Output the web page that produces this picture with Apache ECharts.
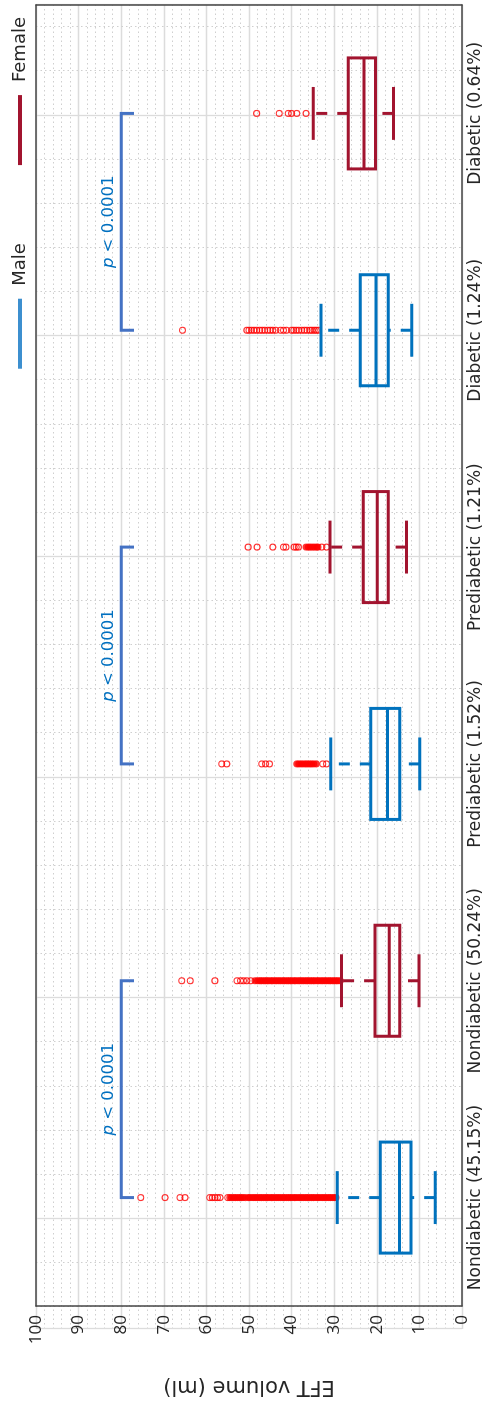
<!DOCTYPE html>
<html>
<head>
<meta charset="utf-8">
<script src="https://cdn.jsdelivr.net/npm/echarts@6/dist/echarts.min.js"></script>
<style>
  html, body { margin: 0; padding: 0; background: #fff; overflow: hidden; width: 487px; height: 1405px; }
  /* chart is laid out landscape, then turned a quarter turn counter-clockwise */
  #chart { position: absolute; left: 0; top: 0; width: 1405px; height: 487px;
           transform-origin: 0 0; transform: translate(0, 1405px) rotate(-90deg); }
</style>
</head>
<body>
<div id="chart"></div>
<script>
// ---- data ----
const categories = ['Nondiabetic (45.15%)', 'Nondiabetic (50.24%)', 'Prediabetic (1.52%)',
                    'Prediabetic (1.21%)', 'Diabetic (1.24%)', 'Diabetic (0.64%)'];
const groups = ['Male', 'Female', 'Male', 'Female', 'Male', 'Female'];

const whiskerLow  = [6.3, 10.1, 9.9, 13.0, 11.8, 16.1];
const quartile1   = [12.0, 14.6, 14.6, 17.3, 17.3, 20.3];
const medians     = [14.7, 17.1, 17.5, 19.9, 20.2, 23.0];
const quartile3   = [19.2, 20.4, 21.4, 23.2, 23.9, 26.7];
const whiskerHigh = [29.3, 28.3, 30.8, 31.0, 33.1, 34.9];

// outliers that stand apart, per category
const isolatedOutliers = [
  [75.4, 69.7, 66.2, 65.0, 59.2, 58.6, 58.0, 57.4, 56.8, 55.0],
  [65.8, 63.8, 58.0, 52.8, 52.0, 51.3, 50.5, 49.6],
  [56.4, 55.2, 47.0, 46.1, 45.2, 32.7, 31.8],
  [50.2, 48.1, 44.4, 41.9, 41.3, 39.4, 38.9, 38.4, 32.9, 31.8],
  [65.6, 50.5, 50.0, 49.4, 48.8, 48.2, 47.5, 46.9, 46.3, 45.6, 45.0, 44.4, 43.7, 42.6, 41.9,
   41.2, 40.0, 39.5, 38.9, 38.3, 37.6, 37.0, 36.4, 35.7, 35.2, 34.7, 34.2, 33.7],
  [48.2, 42.9, 40.8, 40.0, 38.8, 36.6]
];
// outliers packed so tightly that their markers merge into a solid run
const crowdedOutliers = [
  [54.5, 54.1, 53.6, 53.2, 52.7, 52.3, 51.8, 51.4, 50.9, 50.2, 49.8, 49.3, 48.9, 48.4, 48.0,
   47.5, 47.1, 46.6, 46.2, 45.7, 45.3, 44.8, 44.4, 43.9, 43.5, 43.0, 42.6, 42.1, 41.7, 41.2,
   40.8, 40.3, 39.9, 39.4, 39.0, 38.5, 38.1, 37.6, 37.2, 36.7, 36.3, 35.8, 35.4, 34.9, 34.5,
   34.0, 33.6, 33.1, 32.7, 32.2, 31.8, 31.3, 30.9, 30.4, 30.0, 29.6],
  [48.6, 48.0, 47.5, 47.1, 46.6, 46.2, 45.7, 45.3, 44.8, 44.4, 43.9, 43.5, 43.0, 42.6, 42.1,
   41.7, 41.2, 40.8, 40.3, 39.9, 39.4, 39.0, 38.5, 38.1, 37.6, 37.2, 36.7, 36.3, 35.8, 35.4,
   34.9, 34.5, 34.0, 33.6, 33.1, 32.7, 32.2, 31.8, 31.3, 30.9, 30.4, 30.0, 29.5, 29.1, 28.6],
  [38.8, 38.3, 37.8, 37.3, 36.8, 36.3, 35.8, 35.3, 34.8, 34.2],
  [36.6, 36.1, 35.6, 35.1, 34.6, 34.1, 33.8],
  [],
  []
];

// pairwise comparisons: [first category, second category]
const comparisons = [[0, 1], [2, 3], [4, 5]];
const bracketLevel = 80;
const bracketTip = 77;
const pValueText = 'p < 0.0001';

// ---- styling ----
const FONT = 'DejaVu Sans';
const NUM_FONT = 'Open Sans';
const TEXT = '#262626';
const FRAME = '#454545';
const colors = { Male: '#0072BD', Female: '#A2142F' };
const legendColors = { Male: '#3C8FCF', Female: '#A2142F' };

function boxRows(group) {
  const rows = [];
  categories.forEach((c, i) => {
    if (groups[i] === group) {
      rows.push([i, whiskerLow[i], quartile1[i], medians[i], quartile3[i], whiskerHigh[i]]);
    }
  });
  return rows;
}

function pointRows(lists) {
  const rows = [];
  lists.forEach((list, i) => list.forEach(v => rows.push([i, v])));
  return rows;
}

const bracketRows = comparisons.map(([a, b]) => [a, b, bracketLevel, bracketTip]);

// vertical dashed segment from y0 towards y1 (dash pattern starts at y0)
function dashedSegments(x, y0, y1, style) {
  const out = [];
  const dir = y1 < y0 ? -1 : 1;
  const len = Math.abs(y1 - y0);
  const dash = 11, gap = 10;
  for (let s = 0; s < len; s += dash + gap) {
    const e = Math.min(s + dash, len);
    out.push({ type: 'line', shape: { x1: x, y1: y0 + dir * s, x2: x, y2: y0 + dir * e }, style });
  }
  return out;
}

function renderBox(params, api) {
  const i = api.value(0);
  const x = api.coord([i, 0])[0];
  const band = api.size([1, 0])[0];
  const hb = band * 0.256;   // half box width
  const hc = band * 0.122;   // half cap width
  const y = v => api.coord([i, v])[1];
  const yLo = y(api.value(1)), yQ1 = y(api.value(2)), yMed = y(api.value(3));
  const yQ3 = y(api.value(4)), yHi = y(api.value(5));
  const color = api.visual('color');
  const solid = { stroke: color, lineWidth: 3, fill: null };
  return {
    type: 'group',
    children: [
      ...dashedSegments(x, yLo, yQ1, solid),
      ...dashedSegments(x, yQ3, yHi, solid),
      { type: 'line', shape: { x1: x - hc, y1: yLo, x2: x + hc, y2: yLo }, style: solid },
      { type: 'line', shape: { x1: x - hc, y1: yHi, x2: x + hc, y2: yHi }, style: solid },
      { type: 'rect', shape: { x: x - hb, y: yQ3, width: 2 * hb, height: yQ1 - yQ3 },
        style: { stroke: color, lineWidth: 3, fill: 'none' } },
      { type: 'line', shape: { x1: x - hb, y1: yMed, x2: x + hb, y2: yMed }, style: solid }
    ]
  };
}

function renderBracket(params, api) {
  const a = api.coord([api.value(0), api.value(2)]);
  const b = api.coord([api.value(1), api.value(2)]);
  const tip = api.coord([api.value(0), api.value(3)])[1];
  return {
    type: 'group',
    children: [
      { type: 'polyline',
        shape: { points: [[a[0], tip], [a[0], a[1]], [b[0], b[1]], [b[0], tip]] },
        style: { stroke: '#4472C4', lineWidth: 3, fill: null } },
      { type: 'text',
        x: (a[0] + b[0]) / 2, y: a[1] - 4,
        style: {
          text: '{i|p}' + pValueText.slice(1),
          fontSize: 16.5, fontFamily: FONT, fill: '#0070C0',
          align: 'center', verticalAlign: 'bottom',
          rich: { i: { fontStyle: 'italic', fontSize: 16.5, fontFamily: FONT, fill: '#0070C0' } }
        } }
    ]
  };
}

const axisLineStyle = { color: FRAME, width: 1.5 };
const hiddenParts = { axisLine: { show: false }, axisTick: { show: false }, axisLabel: { show: false } };
const majorGrid = { show: true, lineStyle: { color: '#dcdcdc', width: 1.3 } };
const minorGrid = { show: true, lineStyle: { color: '#cfcfcf', width: 1, type: [1.5, 3] } };

const option = {
  animation: false,
  backgroundColor: '#ffffff',
  legend: {
    data: ['Male', 'Female'].map(n => ({ name: n, itemStyle: { color: legendColors[n] } })),
    right: 12, top: 6,
    icon: 'rect', itemWidth: 70, itemHeight: 4, itemGap: 78,
    textStyle: { fontSize: 18, fontFamily: FONT, color: TEXT, padding: [0, 0, 0, 8] }
  },
  grid: [
    { left: 76, right: 5, top: 36, bottom: 25 },
    // offset by a tenth of a category band so that fine lines fall at 0.2 steps between categories
    { left: 76 + 1324 / 60, right: 5 + 1324 / 60, top: 36, bottom: 25 },
    // background grid lines, same frame as the main grid
    { left: 76, right: 5, top: 36, bottom: 25 }
  ],
  xAxis: [
    { type: 'category', data: categories, gridIndex: 0, position: 'bottom', boundaryGap: true,
      axisLine: { onZero: false, lineStyle: axisLineStyle },
      axisTick: { inside: true, alignWithLabel: true, length: 14, lineStyle: axisLineStyle },
      axisLabel: { interval: 0, hideOverlap: false, fontSize: 17, fontFamily: FONT, color: TEXT, margin: 5 },
      splitLine: { show: false }, z: 5 },
    { type: 'category', data: categories, gridIndex: 0, position: 'top', boundaryGap: true,
      axisLine: { onZero: false, lineStyle: axisLineStyle },
      axisTick: { inside: true, alignWithLabel: true, length: 14, lineStyle: axisLineStyle },
      axisLabel: { show: false }, splitLine: { show: false }, z: 5 },
    { type: 'value', gridIndex: 1, min: 0.6, max: 6.4, interval: 0.2, ...hiddenParts,
      splitLine: minorGrid, z: 0 },
    { type: 'value', gridIndex: 2, min: 0.5, max: 6.5, minInterval: 1, maxInterval: 1, ...hiddenParts,
      splitLine: majorGrid, z: 0 }
  ],
  yAxis: [
    { type: 'value', gridIndex: 0, position: 'left', min: 0, max: 100, interval: 10,
      name: 'EFT volume (ml)', nameLocation: 'middle', nameGap: 70,
      nameTextStyle: { fontSize: 21, fontFamily: FONT, color: TEXT },
      axisLine: { show: true, onZero: false, lineStyle: axisLineStyle },
      axisTick: { inside: true, length: 14, lineStyle: axisLineStyle },
      axisLabel: { fontSize: 17, fontFamily: NUM_FONT, color: TEXT, margin: 9 },
      splitLine: { show: false }, z: 5 },
    { type: 'value', gridIndex: 0, position: 'right', min: 0, max: 100, interval: 10,
      axisLine: { show: true, onZero: false, lineStyle: axisLineStyle },
      axisTick: { inside: true, length: 14, lineStyle: axisLineStyle },
      axisLabel: { show: false }, splitLine: { show: false }, z: 5 },
    { type: 'value', gridIndex: 1, min: 0, max: 100, show: false },
    { type: 'value', gridIndex: 2, min: 0, max: 100, interval: 10, ...hiddenParts,
      splitLine: majorGrid,
      minorTick: { show: false, splitNumber: 5 },
      minorSplitLine: minorGrid, z: 0 }
  ],
  series: [
    { name: 'Outliers', type: 'scatter', xAxisIndex: 0, yAxisIndex: 0, data: pointRows(isolatedOutliers),
      symbol: 'circle', symbolSize: 6, silent: true, z: 2,
      itemStyle: { color: 'rgba(255,0,0,0)', borderColor: '#FF0000', borderWidth: 1.1 } },
    { name: 'Crowded outliers', type: 'scatter', xAxisIndex: 0, yAxisIndex: 0, data: pointRows(crowdedOutliers),
      symbol: 'circle', symbolSize: 7, silent: true, z: 2,
      itemStyle: { color: '#FF0000', borderColor: '#FF0000', borderWidth: 0 } },
    { name: 'Male', type: 'custom', xAxisIndex: 0, yAxisIndex: 0, data: boxRows('Male'),
      encode: { x: 0, y: [1, 2, 3, 4, 5] }, renderItem: renderBox, z: 3,
      itemStyle: { color: colors.Male } },
    { name: 'Female', type: 'custom', xAxisIndex: 0, yAxisIndex: 0, data: boxRows('Female'),
      encode: { x: 0, y: [1, 2, 3, 4, 5] }, renderItem: renderBox, z: 3,
      itemStyle: { color: colors.Female } },
    { name: 'Comparisons', type: 'custom', xAxisIndex: 0, yAxisIndex: 0, data: bracketRows,
      encode: { x: [0, 1], y: [2, 3] }, renderItem: renderBracket, z: 4, silent: true }
  ]
};

const chart = echarts.init(document.getElementById('chart'), null, { width: 1405, height: 487 });
chart.setOption(option);
</script>
</body>
</html>
